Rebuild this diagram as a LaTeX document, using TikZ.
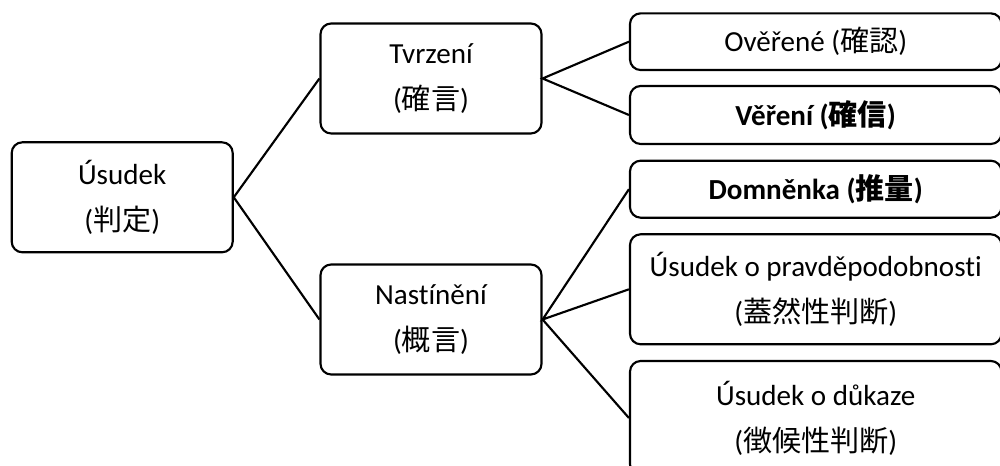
\documentclass[tikz,border=0pt]{standalone}
\usepackage{fontspec}
\setmainfont{Carlito}[Ligatures=CommonOff]
\newfontfamily\cjk{Noto Sans CJK JP}
\newcommand{\kanji}[1]{{\cjk #1}}
\begin{document}
\begin{tikzpicture}[x=0.75pt,y=-0.75pt,
    box/.style={draw,line width=1.6pt,rounded corners=8pt,inner sep=0pt,
      align=center,font=\fontsize{21.8}{34.5}\selectfont},
    wide/.style={box,minimum width=221pt*0.75,minimum height=110pt*0.75},
    leaf/.style={box,minimum width=371.5pt*0.75},
    link/.style={line width=1.6pt}]
    \useasboundingbox (0,0) rectangle (1000,466);
    \node[wide] (judg) at (122.2,197.3) {Úsudek\\(\kanji{判定})};
    \node[wide] (assert) at (431,78.5) {Tvrzení\\(\kanji{確言})};
    \node[wide] (sketch) at (431,319.5) {Nastínění\\(\kanji{概言})};
    \node[leaf,minimum height=56.7pt*0.75] (verified) at (815.75,41.7) {Ověřené (\kanji{確認})};
    \node[leaf,minimum height=58pt*0.75] (belief) at (815.75,115) {\textbf{Věření (\kanji{確信})}};
    \node[leaf,minimum height=57pt*0.75] (guess) at (815.75,189.2) {\textbf{Domněnka (\kanji{推量})}};
    \node[leaf,minimum height=110pt*0.75] (prob) at (815.75,289.3) {Úsudek o pravděpodobnosti\\(\kanji{蓋然性判断})};
    \node[leaf,minimum height=114pt*0.75] (proof) at (815.75,418) {Úsudek o důkaze\\(\kanji{徴候性判断})};
    \draw[link] (assert.west) -- (judg.east) -- (sketch.west);
    \draw[link] (verified.west) -- (assert.east) -- (belief.west);
    \draw[link] (guess.west) -- (sketch.east) -- (prob.west);
    \draw[link] (sketch.east) -- (proof.west);
\end{tikzpicture}
\end{document}
